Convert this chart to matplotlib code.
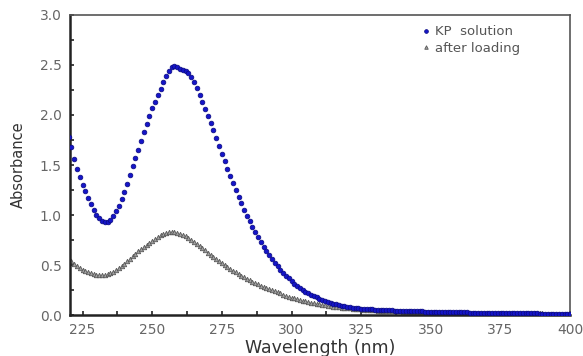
import numpy as np
import matplotlib
matplotlib.use("Agg")
import matplotlib.pyplot as plt
from matplotlib.ticker import MultipleLocator

wavelength = list(range(220, 401))

kp_solution = [
    1.78, 1.68, 1.56, 1.46, 1.38, 1.30, 1.24, 1.17, 1.11, 1.05,
    1.00, 0.97, 0.94, 0.93, 0.93, 0.95, 0.99, 1.04, 1.09, 1.16,
    1.23, 1.31, 1.40, 1.49, 1.57, 1.65, 1.74, 1.83, 1.91, 1.99,
    2.07, 2.13, 2.20, 2.26, 2.33, 2.39, 2.44, 2.48, 2.49, 2.48,
    2.46, 2.45, 2.44, 2.42, 2.38, 2.33, 2.27, 2.20, 2.13, 2.06,
    1.99, 1.92, 1.85, 1.77, 1.69, 1.61, 1.54, 1.46, 1.39, 1.32,
    1.25, 1.18, 1.12, 1.05, 0.99, 0.94, 0.88, 0.83, 0.78, 0.73,
    0.68, 0.64, 0.60, 0.56, 0.52, 0.49, 0.45, 0.42, 0.39, 0.37,
    0.34, 0.31, 0.29, 0.27, 0.25, 0.23, 0.22, 0.20, 0.19, 0.18,
    0.165, 0.155, 0.145, 0.135, 0.125, 0.115, 0.107, 0.10, 0.094, 0.088,
    0.083, 0.078, 0.074, 0.071, 0.068, 0.065, 0.063, 0.061, 0.059, 0.057,
    0.055, 0.053, 0.051, 0.049, 0.048, 0.047, 0.046, 0.045, 0.044, 0.043,
    0.042, 0.041, 0.040, 0.039, 0.038, 0.037, 0.036, 0.036, 0.035, 0.034,
    0.033, 0.033, 0.032, 0.031, 0.031, 0.030, 0.030, 0.029, 0.028, 0.028,
    0.027, 0.027, 0.026, 0.026, 0.025, 0.025, 0.024, 0.024, 0.023, 0.023,
    0.022, 0.022, 0.022, 0.021, 0.021, 0.020, 0.020, 0.020, 0.019, 0.019,
    0.018, 0.018, 0.018, 0.017, 0.017, 0.017, 0.016, 0.016, 0.016, 0.015,
    0.015, 0.015, 0.015, 0.014, 0.014, 0.014, 0.013, 0.013, 0.013, 0.013,
    0.012,
]

after_loading = [
    0.57, 0.54, 0.51, 0.49, 0.47, 0.45, 0.44, 0.43, 0.42, 0.41,
    0.40, 0.40, 0.40, 0.40, 0.41, 0.42, 0.43, 0.45, 0.47, 0.49,
    0.51, 0.54, 0.56, 0.59, 0.61, 0.64, 0.66, 0.68, 0.70, 0.72,
    0.74, 0.76, 0.78, 0.80, 0.81, 0.82, 0.83, 0.83, 0.83, 0.82,
    0.81, 0.80, 0.79, 0.77, 0.75, 0.73, 0.71, 0.69, 0.67, 0.65,
    0.62, 0.60, 0.58, 0.56, 0.54, 0.52, 0.50, 0.48, 0.46, 0.445,
    0.43, 0.41, 0.395, 0.38, 0.365, 0.35, 0.335, 0.32, 0.31, 0.295,
    0.285, 0.27, 0.26, 0.25, 0.24, 0.23, 0.22, 0.205, 0.195, 0.185,
    0.175, 0.17, 0.16, 0.155, 0.145, 0.14, 0.13, 0.125, 0.12, 0.115,
    0.11, 0.105, 0.10, 0.095, 0.09, 0.085, 0.082, 0.078, 0.075, 0.072,
    0.069, 0.066, 0.063, 0.061, 0.058, 0.056, 0.054, 0.052, 0.050, 0.048,
    0.046, 0.045, 0.043, 0.042, 0.041, 0.040, 0.039, 0.038, 0.037, 0.036,
    0.035, 0.034, 0.033, 0.033, 0.032, 0.031, 0.031, 0.030, 0.029, 0.029,
    0.028, 0.028, 0.027, 0.027, 0.026, 0.026, 0.025, 0.025, 0.024, 0.024,
    0.024, 0.023, 0.023, 0.023, 0.022, 0.022, 0.022, 0.021, 0.021, 0.021,
    0.020, 0.020, 0.020, 0.020, 0.019, 0.019, 0.019, 0.019, 0.018, 0.018,
    0.018, 0.018, 0.017, 0.017, 0.017, 0.017, 0.016, 0.016, 0.016, 0.016,
    0.016, 0.015, 0.015, 0.015, 0.015, 0.015, 0.014, 0.014, 0.014, 0.014,
    0.014,
]

x_ticks = [225, 250, 275, 300, 325, 350, 375, 400]
y_ticks = [0.0, 0.5, 1.0, 1.5, 2.0, 2.5, 3.0]

plt.rcParams['font.family'] = ['DejaVu Sans']

fig = plt.figure(figsize=(5.83, 3.56), dpi=100)
ax = fig.add_axes([0.12, 0.115, 0.858, 0.843])

ax.plot(wavelength, after_loading, linestyle='none', marker='^',
        markersize=3.2, markerfacecolor='#a0a0a0', markeredgecolor='#585858',
        markeredgewidth=0.6, label='after loading', zorder=2)
ax.plot(wavelength, kp_solution, linestyle='none', marker='o',
        markersize=3.4, markerfacecolor='#1515c8', markeredgecolor='#0a0a80',
        markeredgewidth=0.5, label='KP  solution', zorder=3)

ax.set_xlim(220.5, 399.5)
ax.set_ylim(0, 3.0)
ax.set_xticks(x_ticks)
ax.set_yticks(y_ticks)
ax.set_xticklabels([str(t) for t in x_ticks])
ax.set_yticklabels([f"{t:.1f}" for t in y_ticks])
ax.xaxis.set_minor_locator(MultipleLocator(12.5))
ax.yaxis.set_minor_locator(MultipleLocator(0.25))
ax.tick_params(which='both', direction='in', length=3, width=1.2, color='#222222',
               top=False, right=False)
ax.tick_params(which='major', labelsize=10, labelcolor='#666666', pad=6)

for s in ['left', 'bottom']:
    ax.spines[s].set_linewidth(1.8)
    ax.spines[s].set_color('#222222')
for s in ['top', 'right']:
    ax.spines[s].set_linewidth(1.2)
    ax.spines[s].set_color('#555555')

ax.set_xlabel('Wavelength (nm)', fontsize=12.5, color='#333333', labelpad=1)
ax.set_ylabel('Absorbance', fontsize=10.5, color='#333333', labelpad=10)

handles, labels = ax.get_legend_handles_labels()
leg = ax.legend(handles[::-1], labels[::-1], loc='upper left',
                bbox_to_anchor=(0.706, 0.965), frameon=False, fontsize=9.5,
                handlelength=0.5, handletextpad=0.4, labelspacing=0.25,
                borderpad=0, borderaxespad=0, markerscale=0.8)
for t in leg.get_texts():
    t.set_color('#555555')

fig.savefig('out.png', dpi=100)
